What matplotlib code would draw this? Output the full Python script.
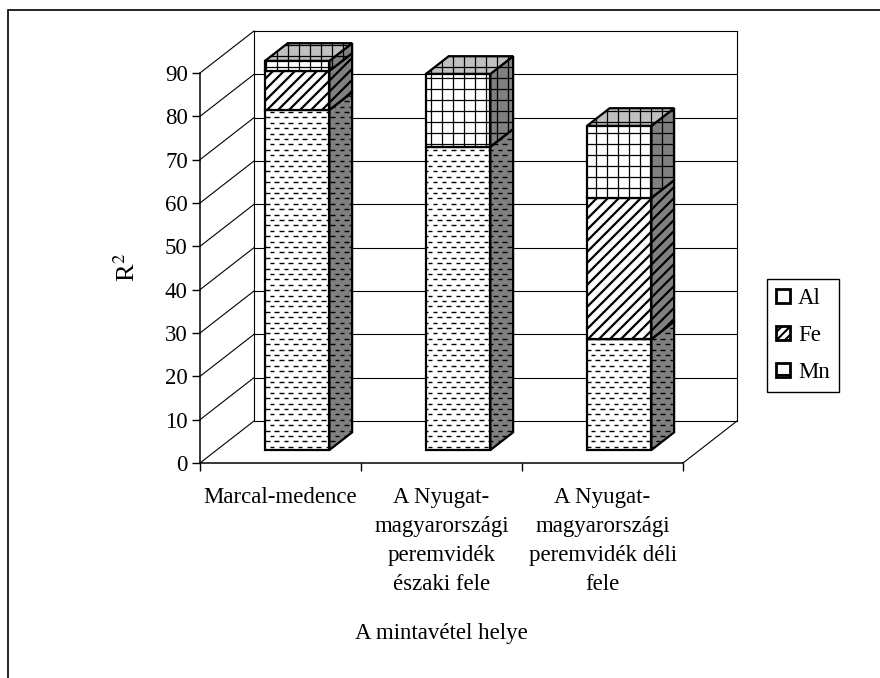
import matplotlib
matplotlib.use("Agg")
import matplotlib.pyplot as plt
import numpy as np
from matplotlib.patches import Polygon, Patch, Rectangle
from matplotlib.collections import LineCollection

# data (R^2, stacked)
categories = ["Marcal-medence",
              "A Nyugat-\nmagyarországi\nperemvidék\nészaki fele",
              "A Nyugat-\nmagyarországi\nperemvidék déli\nfele"]
mn = [78.5, 70.0, 25.6]
fe = [9.0, 0.0, 32.6]
al = [2.3, 16.8, 16.6]
yticks = list(range(0, 100, 10))

plt.rcParams["font.family"] = ["Liberation Serif", "DejaVu Serif"]
plt.rcParams["mathtext.fontset"] = "stix"
plt.rcParams["font.size"] = 16.5
plt.rcParams["hatch.linewidth"] = 1.5

W, H = 880, 678
fig = plt.figure(figsize=(W / 100, H / 100), dpi=100)
ax = fig.add_axes([200 / W, (H - 463) / H, 483 / W, 390 / H])
ax.set_xlim(0, 3)
ax.set_ylim(0, 90)

sx = 3 / 483   # data units per pixel
sy = 90 / 390
DX, DY = 54 * sx, 42 * sy   # depth of the 3d box

# walls and gridlines
wall = dict(color="black", lw=0.8, clip_on=False, zorder=1)
for v in yticks:
    ax.plot([0, DX], [v, v + DY], **wall)
    ax.plot([DX, 3 + DX], [v + DY, v + DY], **wall)
ax.plot([DX, DX], [DY, 90 + DY], **wall)
ax.plot([3 + DX, 3 + DX], [DY, 90 + DY], **wall)
ax.plot([3, 3 + DX], [0, DY], **wall)

for s in ["top", "right"]:
    ax.spines[s].set_visible(False)
for s in ["left", "bottom"]:
    ax.spines[s].set_linewidth(1.1)
ax.patch.set_visible(False)

ax.set_yticks(yticks)
ax.tick_params(axis="y", direction="out", length=5.8, width=1, pad=3)
ax.set_xticks([0, 1, 2, 3])
ax.set_xticklabels([])
ax.tick_params(axis="x", which="major", direction="out", length=5.8, width=1)
ax.set_xticks([0.5, 1.5, 2.5], minor=True)
ax.set_xticklabels(categories, minor=True, linespacing=1.5)
ax.tick_params(axis="x", which="minor", length=0, pad=17.5)

ax.set_ylabel("R$^2$", fontsize=19)
ax.yaxis.label.set_va("center")
ax.yaxis.set_label_coords(-0.151, 0.5)
ax.set_xlabel("A mintavétel helye")
ax.xaxis.label.set_va("center")
ax.xaxis.set_label_coords(0.5, -0.437)


def texture(verts, kind):
    xs, ys = zip(*verts)
    x0, x1 = min(xs) / sx, max(xs) / sx
    y0, y1 = min(ys) / sy, max(ys) / sy
    segs = []
    if kind == "dash":
        step, period, dash = 5.4, 9.3, 4.6
        for y in np.arange(np.floor(y0 / step) * step, y1 + step, step):
            off = (round(y / step) % 2) * period / 2
            for x in np.arange(np.floor(x0 / period) * period - period + off, x1 + period, period):
                segs.append([(x * sx, y * sy), ((x + dash) * sx, y * sy)])
        lw = 1.0
    elif kind == "diag":
        step = 11
        for c in np.arange(np.floor((x0 - y1) / step) * step, x1 - y0 + step, step):
            segs.append([((c + y0) * sx, y0 * sy), ((c + y1) * sx, y1 * sy)])
        lw = 1.6
    else:
        step = 11
        for x in np.arange(np.floor(x0 / step) * step, x1 + step, step):
            segs.append([(x * sx, y0 * sy), (x * sx, y1 * sy)])
        for y in np.arange(np.floor(y0 / step) * step, y1 + step, step):
            segs.append([(x0 * sx, y * sy), (x1 * sx, y * sy)])
        lw = 0.9
    return LineCollection(segs, colors="black", linewidths=lw)


z = [10]


def face(verts, fc, kind):
    p = Polygon(verts, closed=True, fc=fc, ec="none", zorder=z[0], clip_on=False)
    ax.add_patch(p)
    lc = texture(verts, kind)
    lc.set_zorder(z[0] + 0.1)
    lc.set_clip_path(p)
    ax.add_collection(lc)
    ax.add_patch(Polygon(verts, closed=True, fill=False, ec="black", lw=1.6,
                         joinstyle="miter", zorder=z[0] + 0.2, clip_on=False))
    z[0] += 1


f0, f1 = 0.31, 0.73
hw = 0.2
ddx, ddy = (f1 - f0) * DX, (f1 - f0) * DY
for i in range(len(categories)):
    c = i + 0.5
    xa, xb = c - hw + f0 * DX, c + hw + f0 * DX
    ya = f0 * DY
    bottom = 0
    for vals, kind in [(mn, "dash"), (fe, "diag"), (al, "grid")]:
        v = vals[i]
        if v <= 0:
            continue
        b, t = bottom + ya, bottom + v + ya
        face([(xa, b), (xb, b), (xb, t), (xa, t)], "white", kind)
        face([(xb, b), (xb + ddx, b + ddy), (xb + ddx, t + ddy), (xb, t)], "#808080", kind)
        face([(xa, t), (xb, t), (xb + ddx, t + ddy), (xa + ddx, t + ddy)], "#c0c0c0", kind)
        bottom += v

handles = [Patch(fc="white", ec="black", lw=2, label="Al"),
           Patch(fc="white", ec="black", lw=2, hatch="////", label="Fe"),
           Patch(fc="white", ec="black", lw=2, hatch="-", label="Mn")]
leg = fig.legend(handles=handles, loc="upper left", bbox_to_anchor=(767 / W, 1 - 279 / H),
                 bbox_transform=fig.transFigure, borderaxespad=0, fancybox=False,
                 edgecolor="black", framealpha=1, borderpad=0.4, labelspacing=0.7,
                 handlelength=0.6, handleheight=0.6, handletextpad=0.35)
leg.get_frame().set_linewidth(1.0)

fig.add_artist(Rectangle((8 / W, -0.05), 1.2, (H - 10) / H + 0.05, transform=fig.transFigure,
                         fill=False, ec="black", lw=1.2))

fig.savefig("out.png", dpi=100)
